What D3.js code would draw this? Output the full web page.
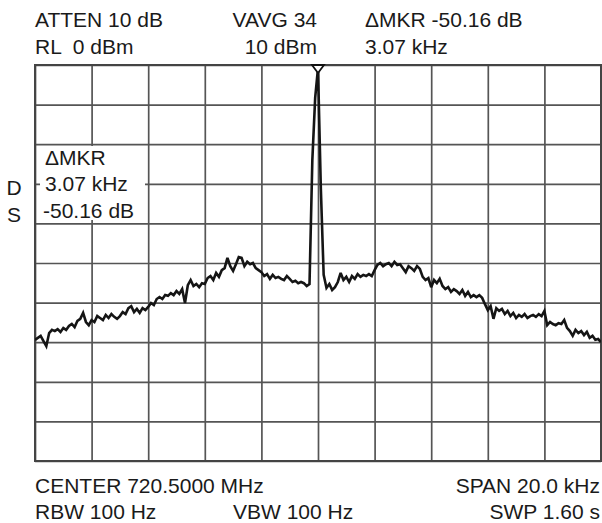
<!DOCTYPE html>
<html><head><meta charset="utf-8">
<script src="https://cdn.jsdelivr.net/npm/d3@7"></script>
<style>
html,body{margin:0;padding:0;background:#fff;}
svg{display:block;}
text{font-family:"Liberation Sans",Arial,Helvetica,sans-serif;fill:#1a1a1a;white-space:pre;}
</style></head>
<body>
<svg id="chart" width="602" height="523"></svg>
<script>
// ---- data ----
const startKHz = -10, stepKHz = 0.1;           // sweep: -10 kHz .. +10 kHz, 201 points
const levelsDbm = [
-69.4,-68.9,-68.4,-69.7,-71.0,-67.7,-66.9,-67.2,-66.7,-67.4,
-66.4,-66.9,-65.9,-65.4,-66.2,-64.6,-64.1,-62.6,-64.9,-65.7,
-64.4,-64.9,-63.4,-63.9,-64.4,-63.1,-63.9,-62.9,-63.6,-64.1,
-63.4,-62.4,-62.9,-61.4,-60.9,-62.4,-61.6,-62.6,-61.4,-61.9,
-61.1,-60.1,-60.6,-59.1,-58.6,-59.1,-58.1,-58.3,-57.6,-58.1,
-57.1,-57.8,-56.6,-60.1,-55.6,-54.3,-55.8,-55.3,-56.1,-55.1,
-55.3,-53.8,-53.3,-54.3,-52.5,-53.5,-51.8,-51.3,-48.7,-50.8,
-52.0,-50.3,-48.5,-48.7,-50.8,-49.7,-50.3,-50.0,-51.3,-51.8,
-52.3,-53.3,-52.8,-54.0,-53.0,-53.8,-53.5,-54.0,-54.3,-53.3,
-54.0,-54.8,-54.5,-55.1,-54.8,-55.1,-55.8,-55.3,-24.0,-8.3,
-0.8,-31.1,-53.0,-56.3,-55.3,-56.8,-56.1,-54.8,-52.5,-54.3,
-53.5,-54.8,-53.3,-54.0,-52.8,-53.5,-53.0,-53.3,-52.8,-53.3,
-51.8,-50.5,-50.0,-50.8,-50.3,-50.0,-50.8,-49.7,-50.5,-50.3,
-51.3,-52.3,-50.8,-51.3,-52.0,-50.8,-51.5,-53.5,-54.3,-53.8,
-56.1,-54.3,-55.1,-54.0,-55.8,-56.6,-56.1,-57.3,-56.6,-57.1,
-57.8,-56.8,-58.3,-57.3,-58.6,-58.1,-58.6,-58.1,-58.8,-60.4,
-61.9,-60.9,-64.1,-61.4,-62.1,-61.6,-62.9,-62.1,-63.4,-62.6,
-63.9,-63.1,-63.6,-62.9,-63.9,-63.4,-63.1,-63.6,-62.9,-63.4,
-62.1,-65.7,-64.9,-65.4,-65.7,-65.2,-65.4,-64.4,-66.4,-67.2,
-68.4,-66.9,-67.7,-67.2,-68.2,-67.4,-68.9,-68.4,-69.4,-69.2,
-70.0];
const markerKHz = 0.0;
const headerLeft  = ["ATTEN 10 dB", "RL  0 dBm"];
const headerMid   = ["VAVG 34", "10 dBm"];
const headerRight = ["\u0394MKR -50.16 dB", "3.07 kHz"];
const footerLeft  = ["CENTER 720.5000 MHz", "RBW 100 Hz"];
const footerMid   = ["", "VBW 100 Hz"];
const footerRight = ["SPAN 20.0 kHz", "SWP 1.60 s"];
const sideLabels  = ["D", "S"];
const boxLabels   = ["\u0394MKR", "3.07 kHz", "-50.16 dB"];
const xTicks = d3.range(-10, 10.001, 2);
const yTicks = d3.range(-100, 0.001, 10);

// ---- layout ----
const L = 35, R = 601, T = 65, B = 461;
const svg = d3.select("#chart");
const x = d3.scaleLinear().domain([-10, 10]).range([L, R]);
const y = d3.scaleLinear().domain([-100, 0]).range([B, T]);

// grid via axes
svg.append("g").attr("transform", `translate(0,${B})`)
  .call(d3.axisBottom(x).tickValues(xTicks).tickSize(-(B - T)).tickFormat(""));
svg.append("g").attr("transform", `translate(${L},0)`)
  .call(d3.axisLeft(y).tickValues(yTicks).tickSize(-(R - L)).tickFormat(""));
svg.selectAll(".domain").remove();
svg.selectAll(".tick line").attr("stroke", "#555").attr("stroke-width", 1.7);

// border
svg.append("rect").attr("x", L).attr("y", T).attr("width", R - L).attr("height", B - T)
  .attr("fill", "none").attr("stroke", "#444").attr("stroke-width", 2);

// trace
const pts = levelsDbm.map((v, i) => [startKHz + i * stepKHz, v]);
svg.append("clipPath").attr("id", "clip").append("rect")
  .attr("x", L).attr("y", T).attr("width", R - L).attr("height", B - T);
svg.append("path").datum(pts)
  .attr("clip-path", "url(#clip)")
  .attr("fill", "none").attr("stroke", "#151515").attr("stroke-width", 2.6)
  .attr("stroke-linejoin", "miter").attr("stroke-miterlimit", 3)
  .attr("d", d3.line().x(d => x(d[0])).y(d => y(d[1])));

// marker triangle
const mx = x(markerKHz);
svg.append("path")
  .attr("d", `M${mx - 6},${T} L${mx + 6},${T} L${mx},${T + 8} Z`)
  .attr("fill", "#fff").attr("stroke", "#111").attr("stroke-width", 1.8)
  .attr("stroke-linejoin", "miter");

// delta marker box
svg.append("rect").attr("x", 40).attr("y", 146).attr("width", 105).attr("height", 74)
  .attr("fill", "#fff");
const fs = 21;
boxLabels.forEach((t, i) => {
  svg.append("text").attr("x", i === 2 ? 43 : 45).attr("y", 164.5 + i * 26.5)
    .attr("font-size", fs).text(t);
});

// header / footer text
function row(arr, xpos, anchor, ys) {
  arr.forEach((t, i) => {
    if (!t) return;
    svg.append("text").attr("x", xpos).attr("y", ys[i]).attr("font-size", fs)
      .attr("text-anchor", anchor).text(t);
  });
}
row(headerLeft, 35, "start", [26.5, 53.5]);
row(headerMid, 317, "end", [26.5, 53.5]);
row(headerRight, 365, "start", [26.5, 53.5]);
row(footerLeft, 35, "start", [492.5, 518.5]);
row(footerMid, 233, "start", [492.5, 518.5]);
row(footerRight, 600, "end", [492.5, 518.5]);
row(sideLabels, 14, "middle", [194.5, 221.5]);
</script>
</body></html>
